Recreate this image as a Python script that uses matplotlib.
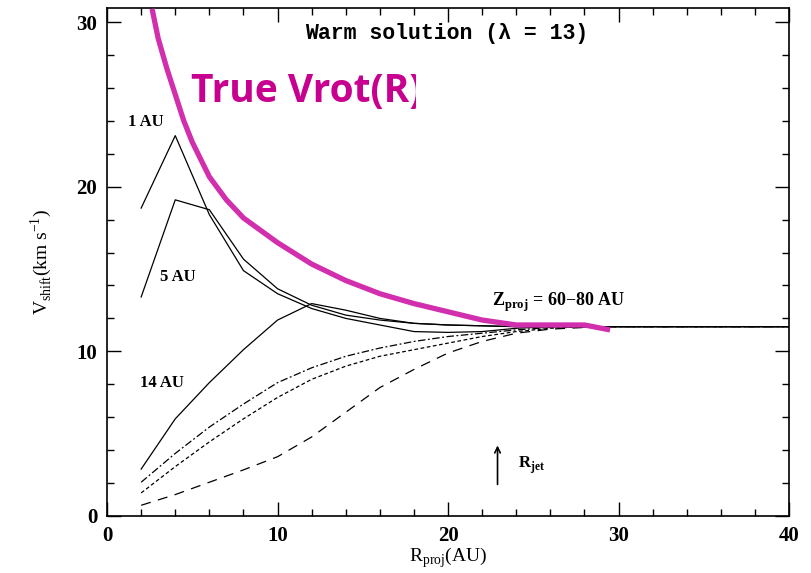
import numpy as np
import matplotlib.pyplot as plt
from matplotlib.patches import Rectangle

plt.rcParams['mathtext.fontset'] = 'custom'
plt.rcParams['mathtext.rm'] = 'Liberation Serif'
plt.rcParams['mathtext.bf'] = 'Liberation Serif:bold'

# projected radius grid (AU)
r_proj = [2, 4, 6, 8, 10, 12, 14, 16, 18, 20, 22, 24, 26, 28, 30, 32, 34, 36, 38, 40]

# velocity shifts (km/s) for each launch radius / model
v_1au = [18.7, 23.1, 18.3, 14.9, 13.5, 12.6, 12.0, 11.6, 11.2, 11.15, 11.2, 11.4, 11.5, 11.5, 11.5, 11.5, 11.5, 11.5, 11.5, 11.5]
v_5au = [13.3, 19.2, 18.6, 15.6, 13.8, 12.8, 12.2, 11.9, 11.7, 11.6, 11.55, 11.5, 11.5, 11.5, 11.5, 11.5, 11.5, 11.5, 11.5, 11.5]
v_14au = [2.85, 5.9, 8.1, 10.1, 11.9, 12.9, 12.5, 12.0, 11.7, 11.6, 11.55, 11.5, 11.5, 11.5, 11.5, 11.5, 11.5, 11.5, 11.5, 11.5]
v_dashdot = [2.05, 3.8, 5.4, 6.8, 8.1, 9.0, 9.7, 10.2, 10.6, 10.9, 11.1, 11.3, 11.45, 11.5, 11.5, 11.5, 11.5, 11.5, 11.5, 11.5]
v_dotted = [1.4, 3.0, 4.5, 5.9, 7.2, 8.3, 9.1, 9.7, 10.1, 10.5, 10.9, 11.2, 11.4, 11.5, 11.5, 11.5, 11.5, 11.5, 11.5, 11.5]
v_dashed = [0.65, 1.3, 2.05, 2.8, 3.6, 4.8, 6.3, 7.8, 8.9, 9.9, 10.6, 11.1, 11.35, 11.45, 11.5, 11.5, 11.5, 11.5, 11.5, 11.5]

# true rotation curve
r_true = [2.64, 3, 3.5, 4, 4.5, 5, 6, 7, 8, 10, 12, 14, 16, 18, 20, 22, 24, 26, 28, 29.5]
v_true = [30.8, 29.0, 27.2, 25.6, 24.0, 22.7, 20.6, 19.2, 18.1, 16.6, 15.3, 14.3, 13.5, 12.9, 12.4, 11.9, 11.6, 11.6, 11.6, 11.3]

r_jet = 22.9

fig = plt.figure(figsize=(8.11, 5.73), dpi=100)
ax = fig.add_axes([0.132, 0.0995, 0.841, 0.8865])

lw = 0.9
ax.plot(r_proj, v_1au, color='black', lw=lw)
ax.plot(r_proj, v_5au, color='black', lw=lw)
ax.plot(r_proj, v_14au, color='black', lw=lw)
ax.plot(r_proj, v_dashdot, color='black', lw=lw, ls=(0, (6, 2, 1.5, 2)))
ax.plot(r_proj, v_dotted, color='black', lw=lw, ls=(0, (3, 2)))
ax.plot(r_proj, v_dashed, color='black', lw=lw, ls=(0, (8, 6)))

ax.plot(r_true, v_true, color='#d12fae', lw=3.8, solid_capstyle='butt',
        solid_joinstyle='round', zorder=5)

ax.set_xlim(0, 40)
ax.set_ylim(0, 30.85)
ax.set_xticks([0, 10, 20, 30, 40])
ax.set_xticks(np.arange(0, 41, 2), minor=True)
ax.set_yticks([0, 10, 20, 30])
ax.set_yticks(np.arange(0, 31, 2), minor=True)
ax.tick_params(which='both', direction='in', top=True, right=True, width=1)
ax.tick_params(which='major', length=10, pad=7)
ax.tick_params(which='minor', length=5)
for s in ax.spines.values():
    s.set_linewidth(1.2)

tfont = dict(family='Liberation Serif', weight='bold')
for lab in ax.get_xticklabels() + ax.get_yticklabels():
    lab.set_fontfamily('Liberation Serif')
    lab.set_fontweight('bold')
    lab.set_fontsize(15)

ax.set_xlabel(r'R$_{\mathrm{proj}}$(AU)', fontsize=14, fontfamily='Liberation Serif', labelpad=0)
ax.set_ylabel(r'V$_{\mathrm{shift}}$(km s$^{-1}$)', fontsize=14, fontfamily='Liberation Serif', labelpad=16)

ax.text(19.9, 29.3, 'Warm solution (λ = 13)', ha='center', va='center',
        fontsize=15.5, family='Liberation Mono', weight='bold')
ax.text(1.2, 23.9, '1 AU', ha='left', va='center', fontsize=12, **tfont)
ax.text(3.1, 14.5, '5 AU', ha='left', va='center', fontsize=12, **tfont)
ax.text(1.95, 8.05, '14 AU', ha='left', va='center', fontsize=12, **tfont)
ax.text(22.6, 13.0, r'Z$_{\mathbf{proj}}$ = 60$-$80 AU', ha='left', va='center', fontsize=13, **tfont)

ax.annotate('', xy=(r_jet, 4.45), xytext=(r_jet, 1.75),
            arrowprops=dict(arrowstyle='->', color='black', lw=1.2))
ax.text(24.1, 3.1, r'R$_{\mathbf{jet}}$', ha='left', va='center', fontsize=12, **tfont)

# overlay label, cut off on the right
label = ax.text(4.95, 25.8, 'True Vrot(R)', ha='left', va='center', fontsize=28,
                family='Open Sans', weight='bold', color='#c8008f', zorder=6,
                clip_on=True)
label.set_clip_path(Rectangle((0, 0), 18.1, 31, transform=ax.transData))

fig.savefig('out.png', dpi=100)
